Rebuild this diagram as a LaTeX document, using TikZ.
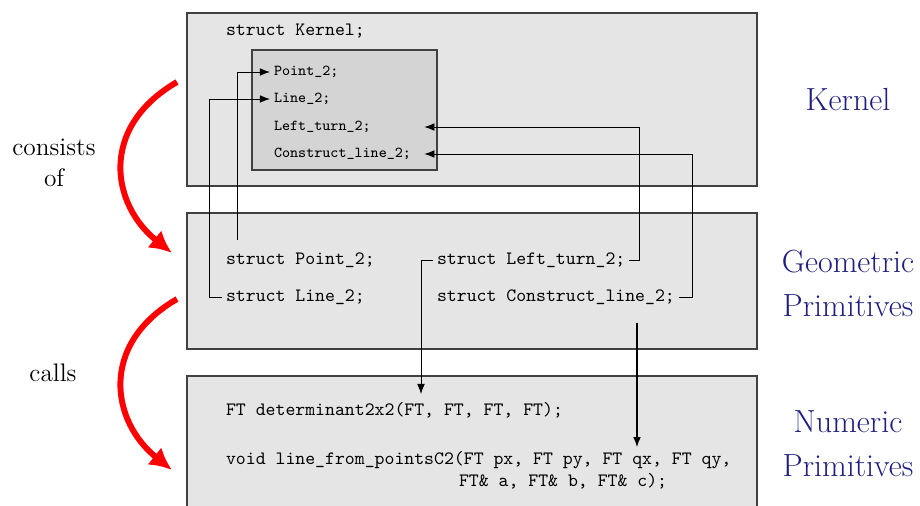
\documentclass[tikz,border=0pt]{standalone}
\usetikzlibrary{arrows.meta, calc}
\definecolor{boxgray}{gray}{0.90}
\definecolor{innergray}{gray}{0.83}
\definecolor{edgegray}{gray}{0.25}
\definecolor{layerblue}{RGB}{30,30,130}
\tikzset{
  layerbox/.style={draw=edgegray, fill=boxgray, line width=0.55pt},
  code/.style={font=\ttfamily\fontsize{10.2}{12}\selectfont, anchor=west, inner sep=2pt},
  kcode/.style={font=\ttfamily\fontsize{8.2}{10}\selectfont, anchor=west, inner sep=2pt,
                text width=79pt, align=left},
  conn/.style={line width=0.5pt},
  connarrow/.style={conn, -{Latex[length=5.5pt,width=4.2pt]}},
  layername/.style={font=\fontsize{17.3}{23.8}\selectfont, text=layerblue, align=center},
  relname/.style={font=\fontsize{13.7}{16.8}\selectfont, align=center},
  relarrow/.style={red, line width=3.2pt, -{Latex[length=12pt,width=12pt]}}
}
\begin{document}
\begin{tikzpicture}[x=0.5405pt, y=-0.5405pt]
    \useasboundingbox (0,0) rectangle (920,506);
    \clip (0,0) rectangle (920,506);

    % Layers:
    \draw[layerbox] (187,13) rectangle (757,186);
    \draw[layerbox] (187,213) rectangle (757,349);
    \draw[layerbox] (187,376) rectangle (757,512);
    \draw[draw=edgegray, fill=innergray, line width=0.55pt] (252,50) rectangle (437,170);

    % Kernel:
    \node[code] (kernel) at (222,31) {struct Kernel;};
    \node[kcode] (kpoint) at (270,72) {Point\_2;};
    \node[kcode] (kline) at (270,99) {Line\_2;};
    \node[kcode] (kleft) at (270,127) {Left\_turn\_2;};
    \node[kcode] (kcons) at (270,154) {Construct\_line\_2;};

    % Geometric primitives:
    \node[code] (gpoint) at (222,260) {struct Point\_2;};
    \node[code] (gline) at (222,297) {struct Line\_2;};
    \node[code] (gleft) at (433,260) {struct Left\_turn\_2;};
    \node[code] (gcons) at (433,297) {struct Construct\_line\_2;};

    % Numeric primitives:
    \node[code] (ndet) at (222,410) {FT determinant2x2(FT, FT, FT, FT);};
    \node[code] (nline) at (222,460) {void line\_from\_pointsC2(FT px, FT py, FT qx, FT qy,};
    \node[code] (nline2) at (455,481) {FT\& a, FT\& b, FT\& c);};

    % Connections:
    \draw[connarrow] ($(gpoint.west)+(15,-20)$) |- (kpoint.west);
    \draw[connarrow] (gline.west) -- ++(-13,0) |- (kline.west);
    \draw[connarrow] (gleft.east) -- ++(10,0) |- (kleft.east);
    \draw[connarrow] (gcons.east) -- ++(14,0) |- (kcons.east);
    \draw[connarrow] (gleft.west) -- ++(-12,0) coordinate (ltdown) -- ($(ltdown |- ndet.north)+(0,-4)$);
    \draw[connarrow, line width=0.8pt] ($(gcons.south west)+(204,14)$) coordinate (cldown) -- (cldown |- nline.north);

    % Layer names:
    \node[layername] (lkernel) at (848,100) {Kernel};
    \node[layername] (lgeom) at (848,283) {Geometric\\Primitives};
    \node[layername] (lnum) at (848,444) {Numeric\\Primitives};

    % Relations:
    \node[relname] (rconsists) at (54,163) {consists\\of};
    \node[relname] (rcalls) at (53,373) {calls};
    \draw[relarrow] (177,82) .. controls (98,128) and (112,205) .. (172,253);
    \draw[relarrow] (177,299) .. controls (98,345) and (112,422) .. (172,470);
\end{tikzpicture}
\end{document}
